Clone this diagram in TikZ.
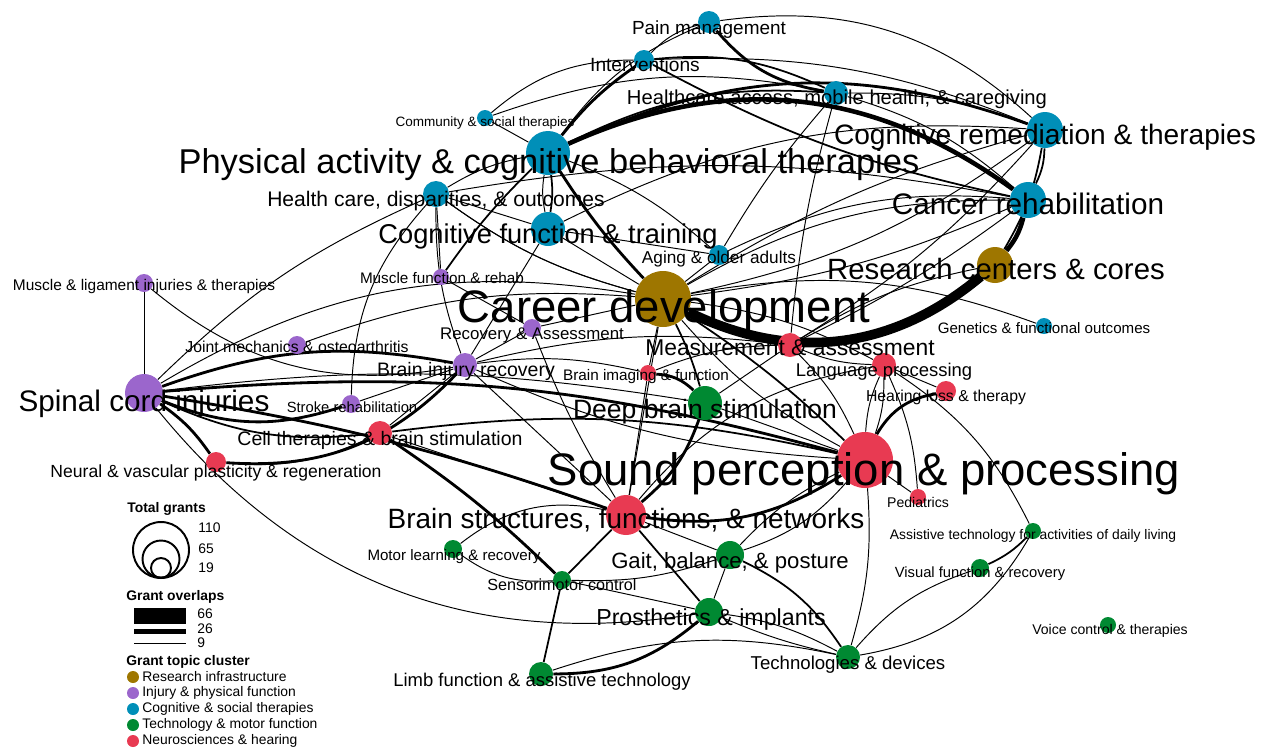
\documentclass[tikz,border=0pt]{standalone}
\usepackage{fontspec}
\setmainfont{Liberation Sans}
\usepackage{tikz}
\usepackage{xcolor}

\definecolor{cgold}{RGB}{158,118,0}
\definecolor{cpurple}{RGB}{155,102,204}
\definecolor{cblue}{RGB}{0,143,184}
\definecolor{cgreen}{RGB}{0,137,50}
\definecolor{cred}{RGB}{232,58,82}

\pgfdeclarelayer{bg}
\pgfsetlayers{bg,main}

\begin{document}
\begin{tikzpicture}[x=0.02cm, y=-0.02cm,
    topic/.style={circle, inner sep=0pt, draw=none},
    lbl/.style={anchor=base, inner sep=0pt, font=\fontsize{#1}{#1}\selectfont},
    key/.style={anchor=west, inner sep=0pt, font=\fontsize{7.9}{8}\selectfont},
    keyhead/.style={anchor=west, inner sep=0pt, font=\fontsize{7.9}{8}\selectfont\bfseries},
    w1/.style={line width=0.55pt},
    w2/.style={line width=1pt},
    w3/.style={line width=1.6pt},
    w4/.style={line width=2.6pt},
    w6/.style={line width=5.5pt}]
        \useasboundingbox (0,0) rectangle (1270,752);

        % Cognitive & social therapies
        \node[topic, fill=cblue, minimum size=0.44cm] (pain) at (709,22) {};
        \node[topic, fill=cblue, minimum size=0.40cm] (int) at (644,60) {};
        \node[topic, fill=cblue, minimum size=0.48cm] (ha) at (836,93) {};
        \node[topic, fill=cblue, minimum size=0.32cm] (com) at (485,118) {};
        \node[topic, fill=cblue, minimum size=0.88cm] (pa) at (548,153) {};
        \node[topic, fill=cblue, minimum size=0.72cm] (crem) at (1045,130) {};
        \node[topic, fill=cblue, minimum size=0.52cm] (hcd) at (436,194) {};
        \node[topic, fill=cblue, minimum size=0.72cm] (can) at (1028,200) {};
        \node[topic, fill=cblue, minimum size=0.68cm] (cf) at (548,229) {};
        \node[topic, fill=cblue, minimum size=0.40cm] (age) at (719,255) {};
        \node[topic, fill=cblue, minimum size=0.32cm] (gen) at (1044,326) {};

        % Research infrastructure
        \node[topic, fill=cgold, minimum size=1.12cm] (car) at (663,299) {};
        \node[topic, fill=cgold, minimum size=0.72cm] (rc) at (995,265) {};

        % Injury & physical function
        \node[topic, fill=cpurple, minimum size=0.36cm] (mli) at (144,283) {};
        \node[topic, fill=cpurple, minimum size=0.32cm] (mfr) at (441,277) {};
        \node[topic, fill=cpurple, minimum size=0.36cm] (jm) at (297,345) {};
        \node[topic, fill=cpurple, minimum size=0.36cm] (ra) at (532,328) {};
        \node[topic, fill=cpurple, minimum size=0.48cm] (bir) at (465,365) {};
        \node[topic, fill=cpurple, minimum size=0.76cm] (sci) at (144,393) {};
        \node[topic, fill=cpurple, minimum size=0.36cm] (str) at (351,404) {};

        % Neurosciences & hearing
        \node[topic, fill=cred, minimum size=0.48cm] (mea) at (790,345) {};
        \node[topic, fill=cred, minimum size=0.32cm] (bi) at (648,373) {};
        \node[topic, fill=cred, minimum size=0.48cm] (lp) at (884,365) {};
        \node[topic, fill=cred, minimum size=0.40cm] (hl) at (946,391) {};
        \node[topic, fill=cred, minimum size=0.48cm] (cts) at (380,433) {};
        \node[topic, fill=cred, minimum size=0.40cm] (nvp) at (216,462) {};
        \node[topic, fill=cred, minimum size=1.12cm] (spp) at (865,460) {};
        \node[topic, fill=cred, minimum size=0.32cm] (ped) at (918,497) {};
        \node[topic, fill=cred, minimum size=0.80cm] (bs) at (626,515) {};

        % Technology & motor function
        \node[topic, fill=cgreen, minimum size=0.68cm] (db) at (705,403) {};
        \node[topic, fill=cgreen, minimum size=0.32cm] (asst) at (1033,531) {};
        \node[topic, fill=cgreen, minimum size=0.36cm] (mlr) at (453,549) {};
        \node[topic, fill=cgreen, minimum size=0.56cm] (gait) at (730,555) {};
        \node[topic, fill=cgreen, minimum size=0.36cm] (vis) at (980,568) {};
        \node[topic, fill=cgreen, minimum size=0.36cm] (sm) at (562,580) {};
        \node[topic, fill=cgreen, minimum size=0.56cm] (pro) at (709,612) {};
        \node[topic, fill=cgreen, minimum size=0.32cm] (voi) at (1108,625) {};
        \node[topic, fill=cgreen, minimum size=0.48cm] (tech) at (848,657) {};
        \node[topic, fill=cgreen, minimum size=0.48cm] (lim) at (541,674) {};

        \begin{pgfonlayer}{bg}
        % Overlaps, top of the map
        \draw[w4] (pa) to[bend left=30] (can);
        \draw[w3] (pa) to[bend left=22] (crem);
        \draw[w2] (pa) to[bend left=15] (ha);
        \draw[w3] (pa) to[bend left=8] (int);
        \draw[w1] (pa) to[bend left=15] (pain);
        \draw[w1] (com) -- (pa);
        \draw[w3] (pa) to[bend right=5] (car);
        \draw[w2] (pa) to[bend left=8] (cf);
        \draw[w1] (pa) to[bend right=10] (cf);
        \draw[w1] (pa) to[bend right=10] (hcd);
        \draw[w1] (pa) to[bend left=10] (age);
        \draw[w2] (pa) to[bend right=5] (mfr);
        \draw[w3] (pain) to[bend right=20] (ha);
        \draw[w1] (pain) to[bend left=25] (crem);
        \draw[w1] (pain) to[bend right=15] (int);
        \draw[w2] (int) to[bend left=15] (ha);
        \draw[w1] (int) to[bend left=12] (crem);
        \draw[w2] (int) to[bend right=8] (can);
        \draw[w1] (com) to[bend left=20] (int);
        \draw[w1] (com) to[bend left=15] (ha);
        \draw[w1] (ha) to[bend left=10] (crem);
        \draw[w1] (ha) to[bend left=12] (can);
        \draw[w1] (ha) to[bend right=5] (age);
        \draw[w1] (ha) to[bend right=5] (mea);
        \draw[w2] (crem) to[bend left=12] (can);
        \draw[w2] (crem) to[bend left=10] (rc);
        \draw[w1] (crem) to[bend right=8] (car);
        \draw[w1] (crem) to[bend left=12] (car);
        \draw[w1] (crem) to[bend right=15] (cf);
        \draw[w1] (crem) to[bend left=8] (mea);
        \draw[w4] (can) to[bend left=12] (rc);
        \draw[w1] (can) to[bend right=15] (car);
        \draw[w1] (can) to[bend left=8] (car);
        \draw[w1] (can) to[bend right=10] (hcd);
        \draw[w1] (can) to[bend left=5] (mea);
        \draw[w6] (rc) to[bend left=33] (car);
        \draw[w1] (gen) to[bend right=15] (car);
        \draw[w1] (rc) to[bend right=10] (mea);
        \draw[w1] (age) to[bend left=15] (can);

        % Overlaps around career development
        \draw[w2] (car) to[bend right=10] (mea);
        \draw[w2] (car) to[bend left=5] (db);
        \draw[w1] (car) to[bend right=10] (spp);
        \draw[w2] (car) to[bend left=5] (spp);
        \draw[w1] (car) -- (bs);
        \draw[w1] (car) -- (bi);
        \draw[w1] (car) -- (ra);
        \draw[w1] (car) to[bend right=12] (jm);
        \draw[w1] (car) to[bend right=20] (sci);
        \draw[w1] (car) -- (cf);
        \draw[w1] (car) -- (age);
        \draw[w1] (car) to[bend left=10] (hcd);
        \draw[w1] (car) to[bend left=10] (lp);

        % Overlaps on the left
        \draw[w3] (sci) to[bend right=20] (str);
        \draw[w3] (sci) to[bend left=10] (nvp);
        \draw[w2] (sci) to[bend right=15] (cts);
        \draw[w3] (sci) to[bend left=15] (bir);
        \draw[w3] (sci) to[bend left=10] (spp);
        \draw[w3] (sci) to[bend left=5] (bs);
        \draw[w1] (sci) to[bend right=30] (pro);
        \draw[w1] (sci) -- (mli);
        \draw[w1] (sci) to[bend left=8] (db);
        \draw[w1] (mli) to[bend right=25] (bir);
        \draw[w3] (nvp) to[bend right=25] (bir);
        \draw[w1] (nvp) to[bend right=15] (cts);
        \draw[w1] (str) to[bend left=20] (hcd);
        \draw[w1] (str) -- (bir);
        \draw[w3] (cts) to[bend left=5] (sm);
        \draw[w1] (cts) -- (bir);
        \draw[w2] (cts) to[bend left=10] (spp);
        \draw[w1] (cts) -- (bs);
        \draw[w1] (bir) -- (ra);
        \draw[w1] (bir) to[bend left=10] (mea);
        \draw[w1] (bir) to[bend right=10] (spp);
        \draw[w1] (bir) -- (bs);
        \draw[w1] (ra) to[bend right=5] (bs);
        \draw[w1] (ra) -- (mfr);
        \draw[w1] (hcd) -- (cf);
        \draw[w1] (hcd) to[bend right=10] (car);
        \draw[w1] (hcd) -- (mfr);
        \draw[w1] (hcd) to[bend right=10] (bir);
        \draw[w1] (hcd) to[bend right=10] (sci);
        \draw[w1] (cf) -- (age);
        \draw[w1] (cf) -- (bir);

        % Overlaps around sound perception
        \draw[w3] (spp) to[bend left=20] (bs);
        \draw[w3] (spp) to[bend left=25] (hl);
        \draw[w1] (spp) to[bend left=10] (lp);
        \draw[w1] (spp) to[bend right=10] (lp);
        \draw[w1] (spp) -- (ped);
        \draw[w1] (spp) to[bend right=10] (mea);
        \draw[w1] (spp) -- (db);
        \draw[w1] (spp) to[bend left=15] (gait);
        \draw[w1] (spp) to[bend right=10] (gait);
        \draw[w1] (spp) to[bend left=10] (tech);
        \draw[w1] (lp) to[bend left=10] (mea);
        \draw[w1] (lp) -- (hl);
        \draw[w1] (lp) to[bend left=10] (ped);
        \draw[w1] (lp) to[bend left=15] (asst);
        \draw[w1] (lp) to[bend right=20] (bs);
        \draw[w1] (mea) to[bend right=10] (bi);
        \draw[w1] (mea) -- (db);
        \draw[w3] (db) to[bend right=20] (bi);
        \draw[w3] (db) to[bend left=15] (bs);
        \draw[w1] (bi) -- (bs);
        \draw[w1] (bi) to[bend right=10] (bir);

        % Overlaps at the bottom
        \draw[w1] (bs) -- (gait);
        \draw[w2] (bs) -- (pro);
        \draw[w2] (bs) -- (sm);
        \draw[w1] (bs) to[bend right=25] (mlr);
        \draw[w2] (sm) -- (lim);
        \draw[w1] (sm) to[bend left=20] (mlr);
        \draw[w1] (sm) to[bend right=10] (gait);
        \draw[w1] (sm) -- (pro);
        \draw[w1] (pro) to[bend left=10] (tech);
        \draw[w1] (pro) to[bend right=5] (tech);
        \draw[w3] (pro) to[bend left=20] (lim);
        \draw[w1] (pro) -- (gait);
        \draw[w2] (gait) to[bend left=15] (tech);
        \draw[w1] (lim) to[bend left=15] (tech);
        \draw[w2] (vis) to[bend right=10] (asst);
        \draw[w1] (vis) to[bend right=15] (tech);
        \draw[w1] (asst) to[bend left=25] (tech);
        \end{pgfonlayer}

        % Topic labels
        \node[lbl=10.8] (pain-t) at (709,34) {Pain management};
        \node[lbl=10.9] (int-t) at (645,71) {Interventions};
        \node[lbl=11.5] (ha-t) at (837,104) {Healthcare access, mobile health, \& caregiving};
        \node[lbl=7.7] (com-t) at (485,126) {Community \& social therapies};
        \node[lbl=19.6] (pa-t) at (549,173) {Physical activity \& cognitive behavioral therapies};
        \node[lbl=16.0] (crem-t) at (1045,144) {Cognitive remediation \& therapies};
        \node[lbl=12.0] (hcd-t) at (436,206) {Health care, disparities, \& outcomes};
        \node[lbl=16.9] (can-t) at (1028,214) {Cancer rehabilitation};
        \node[lbl=15.5] (cf-t) at (548,243) {Cognitive function \& training};
        \node[lbl=9.8] (age-t) at (719,263) {Aging \& older adults};
        \node[lbl=8.6] (gen-t) at (1044,333) {Genetics \& functional outcomes};
        \node[lbl=25.9] (car-t) at (664,322) {Career development};
        \node[lbl=16.7] (rc-t) at (996,279) {Research centers \& cores};
        \node[lbl=8.8] (mli-t) at (144,290) {Muscle \& ligament injuries \& therapies};
        \node[lbl=8.7] (mfr-t) at (442,283) {Muscle function \& rehab};
        \node[lbl=9.0] (jm-t) at (297,352) {Joint mechanics \& osteoarthritis};
        \node[lbl=9.6] (ra-t) at (532,339) {Recovery \& Assessment};
        \node[lbl=11.1] (bir-t) at (466,376) {Brain injury recovery};
        \node[lbl=16.9] (sci-t) at (144,411) {Spinal cord injuries};
        \node[lbl=8.4] (str-t) at (352,412) {Stroke rehabilitation};
        \node[lbl=13.0] (mea-t) at (790,355) {Measurement \& assessment};
        \node[lbl=8.7] (bi-t) at (646,380) {Brain imaging \& function};
        \node[lbl=10.5] (lp-t) at (884,376) {Language processing};
        \node[lbl=9.0] (hl-t) at (946,401) {Hearing loss \& therapy};
        \node[lbl=11.1] (cts-t) at (380,445) {Cell therapies \& brain stimulation};
        \node[lbl=10.0] (nvp-t) at (216,477) {Neural \& vascular plasticity \& regeneration};
        \node[lbl=25.9] (spp-t) at (864,485) {Sound perception \& processing};
        \node[lbl=8.0] (ped-t) at (918,507) {Pediatrics};
        \node[lbl=15.9] (bs-t) at (626,528) {Brain structures, functions, \& networks};
        \node[lbl=15.1] (db-t) at (705,418) {Deep brain stimulation};
        \node[lbl=7.9] (asst-t) at (1033,539) {Assistive technology for activities of daily living};
        \node[lbl=8.6] (mlr-t) at (454,560) {Motor learning \& recovery};
        \node[lbl=12.6] (gait-t) at (730,568) {Gait, balance, \& posture};
        \node[lbl=8.4] (vis-t) at (980,577) {Visual function \& recovery};
        \node[lbl=9.2] (sm-t) at (562,590) {Sensorimotor control};
        \node[lbl=13.2] (pro-t) at (711,625) {Prosthetics \& implants};
        \node[lbl=8.0] (voi-t) at (1110,634) {Voice control \& therapies};
        \node[lbl=10.6] (tech-t) at (848,669) {Technologies \& devices};
        \node[lbl=10.5] (lim-t) at (542,686) {Limb function \& assistive technology};

        % Legend
        \node[keyhead] (tg) at (127,509) {Total grants};
        \node[circle, draw, line width=1.1pt, inner sep=0pt, minimum size=1.12cm] (s110) at (161,550) {};
        \node[circle, draw, line width=1.1pt, inner sep=0pt, minimum size=0.74cm] (s65) at (161,559) {};
        \node[circle, draw, line width=1.1pt, inner sep=0pt, minimum size=0.40cm] (s19) at (161,568) {};
        \node[key] (n110) at (198,528) {110};
        \node[key] (n65) at (198,549) {65};
        \node[key] (n19) at (198,568) {19};

        \node[keyhead] (go) at (126,597) {Grant overlaps};
        \fill (134,608) rectangle (186,624);
        \fill (134,629) rectangle (186,634);
        \draw[w1] (134,643) -- (186,643);
        \node[key] (n66) at (197,614) {66};
        \node[key] (n26) at (197,629) {26};
        \node[key] (n9) at (197,643) {9};

        \node[keyhead] (gc) at (126,662) {Grant topic cluster};
        \node[topic, fill=cgold, minimum size=0.24cm] (k1) at (133,677) {};
        \node[topic, fill=cpurple, minimum size=0.24cm] (k2) at (133,693) {};
        \node[topic, fill=cblue, minimum size=0.24cm] (k3) at (133,709) {};
        \node[topic, fill=cgreen, minimum size=0.24cm] (k4) at (133,725) {};
        \node[topic, fill=cred, minimum size=0.24cm] (k5) at (133,741) {};
        \node[key] (k1-t) at (142,677) {Research infrastructure};
        \node[key] (k2-t) at (142,693) {Injury \& physical function};
        \node[key] (k3-t) at (142,709) {Cognitive \& social therapies};
        \node[key] (k4-t) at (142,725) {Technology \& motor function};
        \node[key] (k5-t) at (142,741) {Neurosciences \& hearing};
    \end{tikzpicture}
\end{document}
